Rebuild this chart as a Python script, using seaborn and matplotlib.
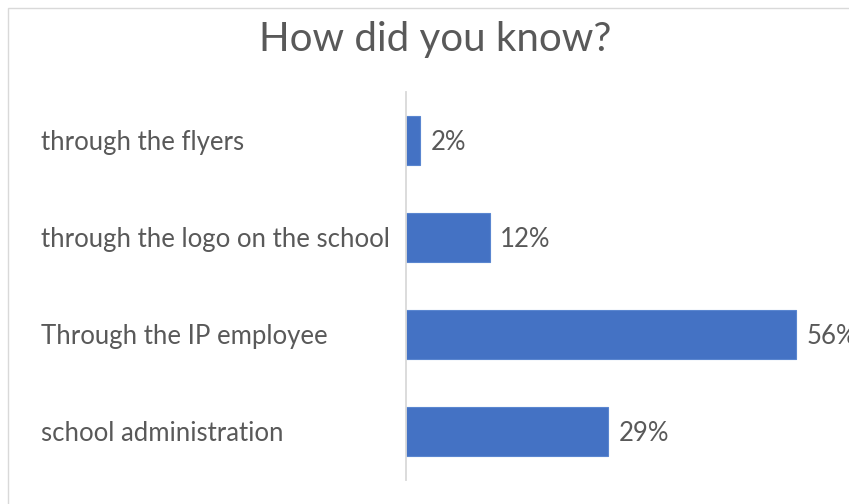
import matplotlib
matplotlib.use("Agg")
import matplotlib.pyplot as plt
import matplotlib.transforms as mtransforms
import seaborn as sns
import pandas as pd

categories = [
    "through the flyers",
    "through the logo on the school",
    "Through the IP employee",
    "school administration",
]
shares = [0.02, 0.12, 0.56, 0.29]
value_labels = ["2%", "12%", "56%", "29%"]

df = pd.DataFrame({"source": categories, "share": shares})

sns.set_theme(style="white")
plt.rcParams["font.family"] = ["Lato", "DejaVu Sans"]

text_color = "#595959"
bar_color = "#4472C4"

fig = plt.figure(figsize=(8.49, 5.04), dpi=100)
ax = fig.add_axes([406 / 849, 1 - 480 / 504, 418 / 849, 388 / 504])

sns.barplot(data=df, x="share", y="source", orient="h", color=bar_color,
            width=0.5, saturation=1, edgecolor="#5A86D0", linewidth=0.8, ax=ax)

ax.set_xlim(0, 0.6)
ax.set_ylim(len(categories) - 0.5, -0.5)
ax.set_xlabel("")
ax.set_ylabel("")
ax.set_xticks([])
ax.set_yticks([])
for side in ["top", "right", "bottom"]:
    ax.spines[side].set_visible(False)
ax.spines["left"].set_color("#D9D9D9")
ax.spines["left"].set_linewidth(1.3)

# category names, left aligned at the chart's inner margin
trans = mtransforms.blended_transform_factory(fig.transFigure, ax.transData)
shift = mtransforms.ScaledTranslation(0, -2 / 100, fig.dpi_scale_trans)
for i, name in enumerate(categories):
    ax.text(41 / 849, i, name, transform=trans + shift, ha="left",
            va="center", fontsize=18.5, color=text_color, clip_on=False)

# value labels at bar ends
for i, (v, lab) in enumerate(zip(shares, value_labels)):
    ax.annotate(lab, xy=(v, i), xytext=(7.5, -1.5), textcoords="offset points",
                ha="left", va="center", fontsize=18.5, color=text_color,
                annotation_clip=False)

fig.text(435 / 849, 1 - 40 / 504, "How did you know?", ha="center",
         va="center", fontsize=29, color=text_color)

# chart area border
border = plt.Rectangle((8 / 849, -0.05), 1.1, 1 - 8 / 504 + 0.05,
                       transform=fig.transFigure, fill=False,
                       edgecolor="#D9D9D9", linewidth=1.0)
fig.patches.append(border)

fig.savefig("out.png", dpi=100, facecolor="white")
